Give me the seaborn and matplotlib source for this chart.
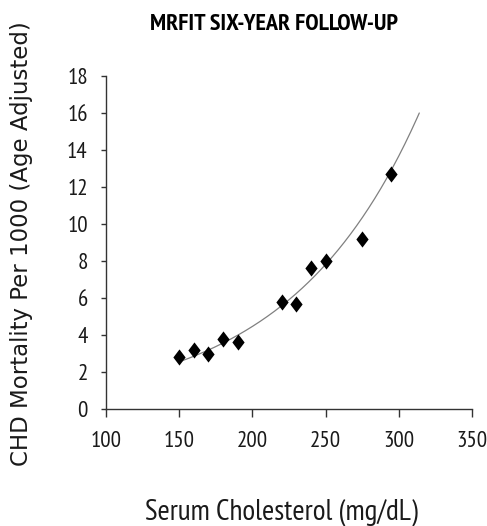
import numpy as np
import pandas as pd
import seaborn as sns
import matplotlib
matplotlib.use("Agg")
import matplotlib.pyplot as plt
from matplotlib import font_manager as fm

cholesterol = [150, 160, 170, 180, 190, 220, 230, 240, 250, 275, 295]
mortality = [2.8, 3.2, 3.0, 3.8, 3.6, 5.8, 5.7, 7.6, 8.0, 9.2, 12.7]
x_ticks = [100, 150, 200, 250, 300, 350]
y_ticks = [0, 2, 4, 6, 8, 10, 12, 14, 16, 18]
title = "MRFIT SIX-YEAR FOLLOW-UP"
xlabel = "Serum Cholesterol (mg/dL)"
ylabel = "CHD Mortality Per 1000 (Age Adjusted)"
# exponential trend line (start and end of the curve)
trend_x = [150, 314]
trend_y = [2.55, 16.0]

sns.set_theme(style="white")
names = {f.name for f in fm.fontManager.ttflist}
narrow = "PT Sans Narrow" if "PT Sans Narrow" in names else "DejaVu Sans"
plt.rcParams['font.family'] = [narrow, 'DejaVu Sans']

df = pd.DataFrame({"x": cholesterol, "y": mortality})
growth = np.log(trend_y[1] / trend_y[0]) / (trend_x[1] - trend_x[0])
xs = np.linspace(trend_x[0], trend_x[1], 200)
trend = pd.DataFrame({"x": xs, "y": trend_y[0] * np.exp(growth * (xs - trend_x[0]))})

W, H = 487, 526
fig = plt.figure(figsize=(W / 100, H / 100), dpi=100)
ax = fig.add_axes([106 / W, 1 - 409 / H, (472 - 106) / W, (409 - 76) / H])

sns.lineplot(data=trend, x="x", y="y", ax=ax, color="#808080", linewidth=0.9)
diamond = [(0, 1), (0.76, 0), (0, -1), (-0.76, 0), (0, 1)]
sns.scatterplot(data=df, x="x", y="y", ax=ax, marker=diamond, s=135,
                color="black", edgecolor="black", linewidth=0, zorder=3)

ax.set_xlim(100, 350)
ax.set_ylim(0, 18)
ax.set_xticks(x_ticks)
ax.set_yticks(y_ticks)
ax.set_xlabel("")
ax.set_ylabel("")
for s in ["top", "right"]:
    ax.spines[s].set_visible(False)
for s in ["left", "bottom"]:
    ax.spines[s].set_color("#333333")
    ax.spines[s].set_linewidth(1.0)
ax.tick_params(axis="both", direction="out", width=1, color="#333333",
               labelsize=16.6, labelcolor="#1a1a1a", left=True, bottom=True)
ax.tick_params(axis="x", length=5.5, pad=10.5)
ax.tick_params(axis="y", length=3.6, pad=9.5)

fig.text(273.5 / W, 1 - 30 / H, title, ha="center", va="baseline",
         fontsize=17.4, fontweight="bold", color="black")
fig.text(281 / W, 1 - 520 / H, xlabel, ha="center", va="baseline",
         fontsize=21.2, color="#1a1a1a")
fig.text(22 / W, 1 - 244 / H, ylabel, ha="center", va="center", rotation=90,
         fontsize=16.5, color="#1a1a1a", family="DejaVu Sans")

fig.savefig("out.png", dpi=100)
